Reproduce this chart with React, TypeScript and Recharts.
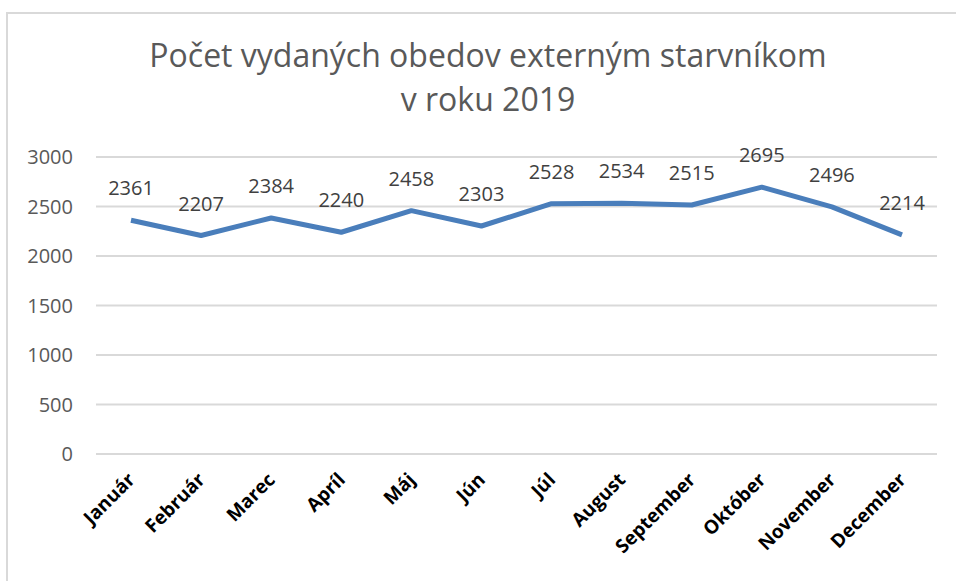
import { LineChart, Line, XAxis, YAxis, CartesianGrid, LabelList } from "recharts";

const months = ["Január", "Február", "Marec", "Apríl", "Máj", "Jún", "Júl", "August", "September", "Október", "November", "December"];
const meals = [2361, 2207, 2384, 2240, 2458, 2303, 2528, 2534, 2515, 2695, 2496, 2214];
const yTicks = [0, 500, 1000, 1500, 2000, 2500, 3000];

const data = months.map((m, i) => ({ month: m, value: meals[i] }));

const FONT = "'Open Sans', sans-serif";

const MonthTick = ({ x, y, payload }: { x?: number; y?: number; payload?: { value: string } }) => {
  const ax = (x ?? 0) + 5;
  const ay = (y ?? 0) + 19;
  return (
    <text
      x={ax}
      y={ay}
      transform={`rotate(-45, ${ax}, ${ay})`}
      textAnchor="end"
      fontFamily={FONT}
      fontWeight={700}
      fontSize={19}
      fill="#000"
    >
      {payload?.value}
    </text>
  );
};

export default function App() {
  return (
    <div style={{ position: "absolute", left: 0, top: 0, width: 956, height: 581, background: "#fff", fontFamily: FONT, overflow: "hidden" }}>
      <div style={{ position: "absolute", left: 6, top: 12, width: 960, height: 600, borderLeft: "2px solid #d9d9d9", borderTop: "2px solid #d9d9d9" }} />
      <div style={{ position: "absolute", left: 0, width: 976, top: 33, textAlign: "center", color: "#595959", fontSize: 32, lineHeight: "44px" }}>
        Počet vydaných obedov externým starvníkom
        <br />v roku 2019
      </div>
      <div style={{ position: "absolute", left: 0, top: 0 }}>
        <LineChart width={956} height={581} data={data} margin={{ top: 157, right: 19, bottom: 0, left: 0 }}>
          <CartesianGrid vertical={false} stroke="#d9d9d9" strokeWidth={2} />
          <XAxis
            dataKey="month"
            height={127}
            axisLine={false}
            tickLine={false}
            interval={0}
            padding={{ left: 35, right: 35 }}
            tick={<MonthTick />}
          />
          <YAxis
            width={96}
            domain={[0, 3000]}
            ticks={yTicks}
            axisLine={false}
            tickLine={false}
            tickMargin={17}
            tick={{ fill: "#595959", fontSize: 20, fontFamily: FONT }}
          />
          <Line
            dataKey="value"
            stroke="#4a7ebb"
            strokeWidth={5}
            dot={false}
            strokeLinejoin="round"
            isAnimationActive={false}
          >
            <LabelList dataKey="value" position="top" offset={25} fill="#404040" fontSize={20} fontFamily={FONT} />
          </Line>
        </LineChart>
      </div>
    </div>
  );
}
